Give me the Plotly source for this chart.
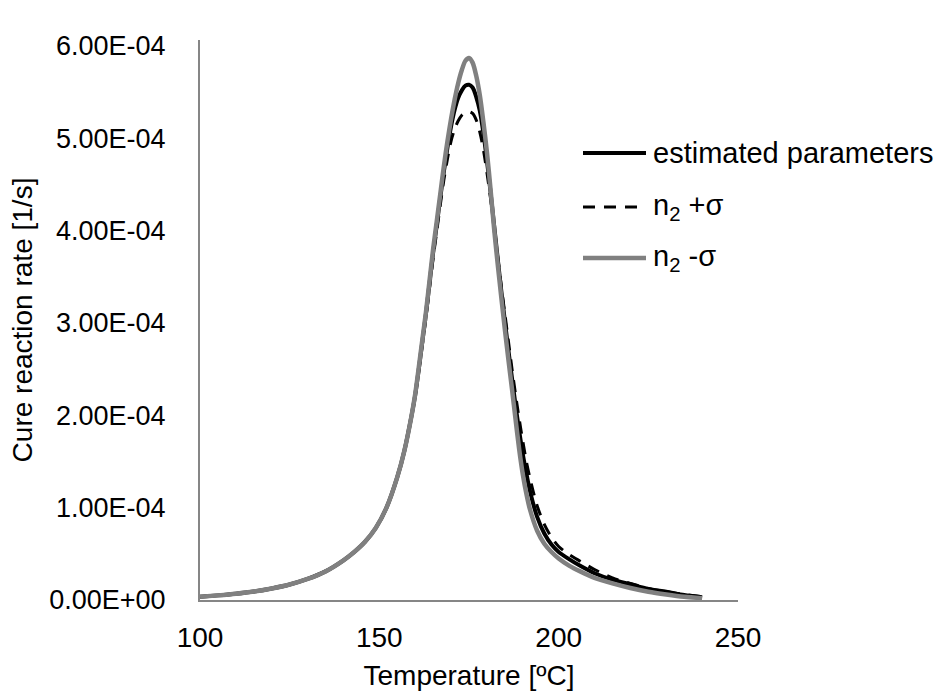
import plotly.graph_objects as go

# Temperature [ºC]
temps = [100, 105, 110, 115, 120, 125, 130, 135, 140, 143, 146, 149, 152, 155, 157, 159,
         160, 161, 162, 163, 164, 165, 166, 167, 168, 169, 170, 171, 172, 173, 174, 175,
         176, 177, 178, 179, 180, 181, 182, 183, 184, 185, 186, 187, 188, 189, 190, 191,
         192, 194, 196, 198, 200, 203, 206, 210, 215, 220, 225, 230, 235, 240]

# values in units of 1e-4 1/s
estimated = [0.035, 0.05, 0.068, 0.092, 0.125, 0.168, 0.228, 0.31, 0.43, 0.52, 0.63, 0.78, 1.0, 1.33, 1.62, 2.0,
             2.22, 2.5, 2.8, 3.1, 3.43, 3.76, 4.06, 4.36, 4.64, 4.9, 5.13, 5.31, 5.44, 5.52, 5.57, 5.58,
             5.55, 5.45, 5.3, 5.06, 4.76, 4.42, 4.06, 3.7, 3.35, 3.02, 2.7, 2.4, 2.1, 1.83, 1.58, 1.37,
             1.18, 0.9, 0.72, 0.6, 0.52, 0.44, 0.37, 0.29, 0.22, 0.17, 0.12, 0.09, 0.055, 0.03]

n2_plus = [0.035, 0.05, 0.068, 0.092, 0.125, 0.168, 0.228, 0.31, 0.43, 0.52, 0.63, 0.78, 1.0, 1.33, 1.62, 2.0,
           2.21, 2.48, 2.77, 3.06, 3.38, 3.7, 3.99, 4.28, 4.55, 4.78, 4.97, 5.1, 5.19, 5.25, 5.28, 5.29,
           5.27, 5.2, 5.07, 4.88, 4.63, 4.35, 4.05, 3.72, 3.4, 3.1, 2.8, 2.5, 2.22, 1.96, 1.72, 1.5,
           1.32, 1.02, 0.82, 0.68, 0.58, 0.49, 0.42, 0.33, 0.24, 0.18, 0.125, 0.09, 0.06, 0.035]

n2_minus = [0.035, 0.05, 0.068, 0.092, 0.125, 0.168, 0.228, 0.31, 0.43, 0.52, 0.63, 0.78, 1.0, 1.33, 1.62, 2.0,
            2.23, 2.52, 2.82, 3.12, 3.46, 3.8, 4.1, 4.4, 4.7, 4.97, 5.21, 5.42, 5.6, 5.74, 5.84, 5.87,
            5.82, 5.68, 5.47, 5.18, 4.85, 4.45, 4.02, 3.64, 3.28, 2.93, 2.6, 2.28, 1.95, 1.63, 1.36, 1.15,
            0.98, 0.75, 0.61, 0.52, 0.45, 0.37, 0.31, 0.24, 0.18, 0.13, 0.09, 0.06, 0.035, 0.02]

y_tick_vals = [0, 1e-4, 2e-4, 3e-4, 4e-4, 5e-4, 6e-4]
y_tick_text = ["0.00E+00", "1.00E-04", "2.00E-04", "3.00E-04", "4.00E-04", "5.00E-04", "6.00E-04"]
x_tick_vals = [100, 150, 200, 250]

legend_names = ["estimated parameters", "n<sub>2</sub> +σ", "n<sub>2</sub> -σ"]

scale = 1e-4
FONT = "Liberation Sans, Arial, sans-serif"
GRAY = "#808080"

fig = go.Figure()
styles = [
    dict(color="#000000", width=4, dash="solid"),
    dict(color="#000000", width=3, dash="12px,9px"),
    dict(color=GRAY, width=4.5, dash="solid"),
]
series = [estimated, n2_plus, n2_minus]
for vals, st, name in zip(series, styles, legend_names):
    fig.add_trace(go.Scatter(
        x=temps, y=[v * scale for v in vals], mode="lines", name=name,
        line=dict(color=st["color"], width=st["width"], dash=st["dash"], shape="spline", smoothing=0.8),
        showlegend=False,
    ))

# manual legend (long line samples like the original)
L, R, T, B = 200, 201, 40, 93
W, H = 939 - L - R, 693 - T - B
def px_x(p):
    return (p - L) / W
def px_y(p):
    return (693 - B - p) / H

rows_y = [153, 207, 258]
for name, st, ry in zip(legend_names, styles, rows_y):
    fig.add_shape(type="line", xref="paper", yref="paper",
                  x0=px_x(583), x1=px_x(646), y0=px_y(ry), y1=px_y(ry),
                  line=dict(color=st["color"], width=st["width"], dash=st["dash"]))
    fig.add_annotation(xref="paper", yref="paper", x=px_x(651), y=px_y(ry),
                       text=name, showarrow=False, xanchor="left", yanchor="middle",
                       font=dict(family=FONT, size=29, color="#000000"))

fig.update_layout(
    width=939, height=693,
    margin=dict(l=L, r=R, t=T, b=B, autoexpand=False),
    paper_bgcolor="white", plot_bgcolor="white",
    font=dict(family=FONT, size=28, color="#000000"),
    showlegend=False,
)
fig.update_xaxes(
    range=[100, 250], tickvals=x_tick_vals, ticks="", showgrid=False, zeroline=False,
    showline=True, linecolor="#868686", linewidth=2, automargin=False,
    ticklabelstandoff=11,
    title=dict(text="Temperature [ºC]", standoff=14, font=dict(size=28)),
    tickfont=dict(size=28),
)
fig.update_yaxes(
    range=[0, 6.065e-4], tickvals=y_tick_vals, ticktext=y_tick_text, ticks="",
    showgrid=False, zeroline=False, automargin=False,
    showline=True, linecolor="#868686", linewidth=2,
    ticklabelstandoff=27,
    title=dict(text="Cure reaction rate [1/s]", standoff=8, font=dict(size=28)),
    tickfont=dict(size=27),
)

fig.write_html("out.html")
